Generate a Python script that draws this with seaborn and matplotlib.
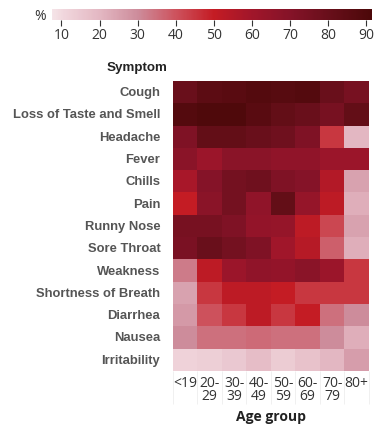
import numpy as np
import pandas as pd
import matplotlib
matplotlib.use("Agg")
import matplotlib.pyplot as plt
from matplotlib.colors import LinearSegmentedColormap
import seaborn as sns

symptoms = ["Cough", "Loss of Taste and Smell", "Headache", "Fever", "Chills", "Pain",
            "Runny Nose", "Sore Throat", "Weakness", "Shortness of Breath", "Diarrhea",
            "Nausea", "Irritability"]
age_groups = ["<19", "20-\n29", "30-\n39", "40-\n49", "50-\n59", "60-\n69", "70-\n79", "80+"]

cough       = [80, 85, 86, 88, 87, 88, 80, 75]
taste_smell = [88, 90, 90, 86, 82, 80, 75, 82]
headache    = [72, 82, 82, 80, 78, 72, 45, 20]
fever       = [68, 62, 68, 68, 66, 66, 62, 62]
chills      = [58, 70, 76, 78, 72, 70, 55, 25]
pain        = [50, 68, 76, 66, 82, 64, 52, 22]
runny_nose  = [75, 75, 72, 65, 64, 52, 42, 25]
sore_throat = [74, 80, 76, 72, 60, 54, 38, 22]
weakness    = [33, 52, 62, 66, 65, 68, 62, 45]
breath      = [25, 45, 52, 52, 50, 45, 45, 45]
diarrhea    = [27, 40, 45, 52, 45, 50, 35, 30]
nausea      = [30, 35, 35, 36, 35, 35, 30, 22]
irritab     = [12, 13, 15, 18, 14, 17, 20, 26]

values = [cough, taste_smell, headache, fever, chills, pain, runny_nose, sore_throat,
          weakness, breath, diarrhea, nausea, irritab]
df = pd.DataFrame(values, index=symptoms, columns=age_groups)

vmin, vmax = 7.5, 91.5
def pos(v):
    return (v - vmin) / (vmax - vmin)
cmap = LinearSegmentedColormap.from_list("reds", [
    (0.0, "#f5e4e8"),
    (pos(10), "#f1d8de"),
    (pos(20), "#e3b7c2"),
    (pos(30), "#cd8c9b"),
    (pos(40), "#cd525d"),
    (pos(50), "#c41c24"),
    (pos(60), "#a1162a"),
    (pos(70), "#851328"),
    (pos(80), "#690f1b"),
    (1.0, "#4c0809"),
])

fig = plt.figure(figsize=(3.85, 4.27), dpi=100)
ax = fig.add_axes([0.449, 0.129, 0.509, 0.679])
cax = fig.add_axes([0.135, 0.951, 0.831, 0.026])

sns.heatmap(df, ax=ax, cmap=cmap, vmin=vmin, vmax=vmax, cbar_ax=cax,
            cbar_kws={"orientation": "horizontal", "ticks": [10, 20, 30, 40, 50, 60, 70, 80, 90]},
            linewidths=0)

# colorbar styling
cb = ax.collections[0].colorbar
cb.outline.set_visible(False)
cax.tick_params(axis="x", length=4, width=0.8, color="#333333", labelsize=10,
                labelcolor="#333333", pad=1)
for t in cax.get_xticklabels():
    t.set_fontfamily("Open Sans")
fig.text(0.118, 0.962, "%", ha="right", va="center", fontsize=10, color="#333333",
         family="Open Sans")

# y labels
ax.set_yticklabels(symptoms, rotation=0, fontsize=9.4, fontweight="bold",
                   color="#555555", family="Liberation Sans")
ax.tick_params(axis="y", length=0, pad=9)
ax.set_ylabel("")
fig.text(0.435, 0.840, "Symptom", ha="right", va="center", fontsize=9.6,
         fontweight="bold", color="#222222", family="Liberation Sans")

# x labels
ax.set_xticklabels(age_groups, rotation=0, fontsize=10, color="#333333",
                   family="Open Sans", linespacing=0.85)
ax.tick_params(axis="x", length=0, pad=3)
ax.set_xticks(np.arange(len(age_groups) + 1), minor=True)
ax.tick_params(axis="x", which="minor", length=24, width=0.6, color="#eeeeee")
ax.set_xlabel("Age group", fontsize=10, fontweight="bold", color="#222222",
              family="Open Sans", labelpad=0)

fig.savefig("out.png", dpi=100)
